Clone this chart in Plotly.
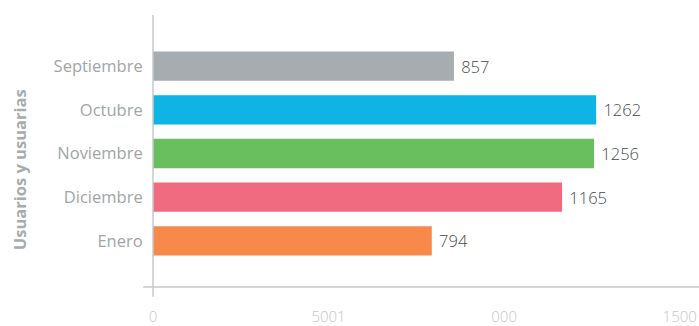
import plotly.graph_objects as go

months = ["Septiembre", "Octubre", "Noviembre", "Diciembre", "Enero"]
users = [857, 1262, 1256, 1165, 794]
bar_colors = ["#A6ACAF", "#0DB4E4", "#69BF5D", "#F06A80", "#F78A4A"]
x_tick_vals = [0, 500, 1000, 1500]
x_tick_text = ["0", "5001", "000", "1500"]

fig = go.Figure(go.Bar(
    y=months, x=users, orientation="h",
    marker=dict(color=bar_colors, line=dict(width=0)),
    texttemplate=" %{x}", textposition="outside",
    textfont=dict(family="Open Sans", size=16.5, color="#4a4a4a", weight=300),
    cliponaxis=False, width=0.67,
))

fig.update_layout(
    width=699, height=326,
    margin=dict(l=153, r=0, t=15, b=34),
    paper_bgcolor="white", plot_bgcolor="white",
    showlegend=False,
    xaxis=dict(range=[0, 1555], tickvals=x_tick_vals, ticktext=x_tick_text,
               showgrid=False, zeroline=False, showline=False,
               ticks="outside", ticklen=16, tickcolor="rgba(0,0,0,0)",
               tickfont=dict(family="Open Sans", size=15, color="#C3C7C9", weight=300)),
    yaxis=dict(categoryorder="array", categoryarray=months,
               range=[5.056, -1.17], showgrid=False, zeroline=False, showline=False,
               ticks="outside", ticklen=6, tickcolor="rgba(0,0,0,0)",
               tickfont=dict(family="Open Sans", size=16.5, color="#A0A5A8", weight=500)),
    shapes=[
        dict(type="line", xref="paper", yref="paper", x0=0, x1=0, y0=-0.036, y1=1,
             line=dict(color="#C6C9CB", width=1.5)),
        dict(type="line", xref="paper", yref="paper", x0=-0.018, x1=1, y0=0, y1=0,
             line=dict(color="#C6C9CB", width=1.5)),
    ],
    annotations=[dict(text="<b>Usuarios y usuarias</b>", textangle=-90,
                      xref="paper", yref="paper", x=-0.245, y=0.43,
                      showarrow=False, xanchor="center", yanchor="middle",
                      font=dict(family="Open Sans", size=16.5, color="#A7ACAF"))],
)

fig.write_html("out.html")
